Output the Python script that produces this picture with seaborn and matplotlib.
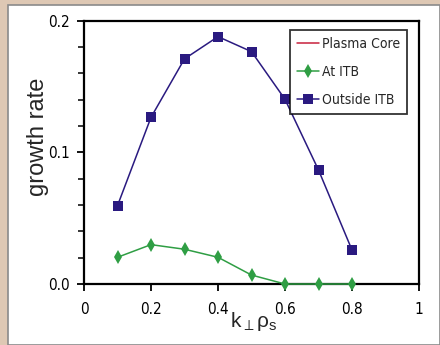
import matplotlib
matplotlib.use("Agg")
import matplotlib.pyplot as plt
import matplotlib.patches as mpatches
from matplotlib import font_manager
import seaborn as sns
import pandas as pd

k_perp = [0.1, 0.2, 0.3, 0.4, 0.5, 0.6, 0.7, 0.8]
plasma_core = [0.0, 0.0, 0.0, 0.0, 0.0, 0.0, 0.0, 0.0]
at_itb = [0.0203, 0.0299, 0.0264, 0.0203, 0.0068, 0.0, 0.0, 0.0]
outside_itb = [0.0595, 0.1266, 0.171, 0.1879, 0.1765, 0.1403, 0.0866, 0.0258]
series_names = ["Plasma Core", "At ITB", "Outside ITB"]
x_tick_vals = [0, 0.2, 0.4, 0.6, 0.8, 1.0]
x_tick_labels = ["0", "0.2", "0.4", "0.6", "0.8", "1"]
y_tick_vals = [0, 0.1, 0.2]
y_tick_labels = ["0.0", "0.1", "0.2"]
y_minor_vals = [0.02, 0.04, 0.06, 0.08, 0.12, 0.14, 0.16, 0.18]

sns.set_theme(style="white")
plt.rcParams['font.family'] = ['Liberation Sans', 'DejaVu Sans']
plt.rcParams['mathtext.fontset'] = 'custom'
plt.rcParams['mathtext.rm'] = 'Liberation Sans'
plt.rcParams['mathtext.it'] = 'Liberation Sans'

# look for a condensed face if one is installed
narrow = None
for f in font_manager.fontManager.ttflist:
    if f.stretch in ('condensed', 'semi-condensed', 'extra-condensed') or 'Narrow' in f.name or 'Condensed' in f.name:
        if f.style == 'normal' and f.weight in (400, 'normal', 'regular'):
            narrow = f.fname
            break
narrow_fp = font_manager.FontProperties(fname=narrow) if narrow else font_manager.FontProperties(family='Liberation Sans')

df = pd.DataFrame({
    "k": k_perp * 3,
    "rate": plasma_core + at_itb + outside_itb,
    "series": [series_names[0]] * len(k_perp) + [series_names[1]] * len(k_perp) + [series_names[2]] * len(k_perp),
})

fig = plt.figure(figsize=(4.4, 3.45), dpi=100)
fig.patch.set_facecolor('#dec8b4')
panel = mpatches.Rectangle((8 / 440, 0), 1 - 8 / 440, 1 - 5 / 345, transform=fig.transFigure,
                           facecolor='white', edgecolor='#8a8a8a', linewidth=1.2, zorder=-10)
fig.patches.append(panel)

ax = fig.add_axes([84 / 440, 1 - 284 / 345, (419 - 84) / 440, (284 - 20.7) / 345])
ax.set_zorder(1)
ax.set_facecolor('white')

palette = {"Plasma Core": "#c8203c", "At ITB": "#2f9e44", "Outside ITB": "#2a1a80"}
markers = {"Plasma Core": None, "At ITB": "d", "Outside ITB": "s"}
msizes = {"Plasma Core": 0, "At ITB": 7, "Outside ITB": 6.5}
for name in series_names:
    sub = df[df["series"] == name]
    sns.lineplot(data=sub, x="k", y="rate", ax=ax, color=palette[name],
                 marker=markers[name], markersize=msizes[name],
                 markeredgewidth=0, linewidth=1.1, label=name, legend=False,
                 zorder=3 if name != "Plasma Core" else 2, clip_on=False)

ax.set_xlim(0, 1)
ax.set_ylim(0, 0.2)
ax.set_xticks(x_tick_vals)
ax.set_xticklabels(x_tick_labels)
ax.set_yticks(y_tick_vals)
ax.set_yticklabels(y_tick_labels)
ax.set_yticks(y_minor_vals, minor=True)
tick_size = 11 if narrow else 10.5
ax.tick_params(axis='both', which='major', direction='out', length=5, width=1.3,
               colors='black', bottom=True, left=True)
ax.tick_params(axis='y', which='minor', direction='out', length=4, width=1.1,
               left=True, color='black')
for lab in ax.get_xticklabels() + ax.get_yticklabels():
    lab.set_fontproperties(narrow_fp)
    lab.set_fontsize(tick_size)
ax.tick_params(axis='x', pad=8)
ax.tick_params(axis='y', pad=5)
for s in ax.spines.values():
    s.set_color('black')
    s.set_linewidth(1.6)

ax.set_xlabel(r'$\mathregular{k_{\perp}\rho_s}$', fontsize=15, labelpad=-6)
ax.xaxis.set_label_coords(0.505, -0.1)
ax.set_ylabel('growth rate', fontsize=17, labelpad=10)
ax.yaxis.set_label_coords(-0.105, 0.56)

handles, labels = ax.get_legend_handles_labels()
leg_fp = narrow_fp.copy()
leg_fp.set_size(10 if narrow else 9)
leg = ax.legend(handles, labels, loc='upper right', bbox_to_anchor=(0.965, 0.965),
                frameon=True, fancybox=False, prop=leg_fp, handlelength=1.6,
                labelspacing=1.0, borderpad=0.5, handletextpad=0.25, borderaxespad=0)
leg.get_frame().set_edgecolor('black')
leg.get_frame().set_linewidth(1.3)

fig.savefig("out.png", dpi=100, facecolor=fig.get_facecolor())
